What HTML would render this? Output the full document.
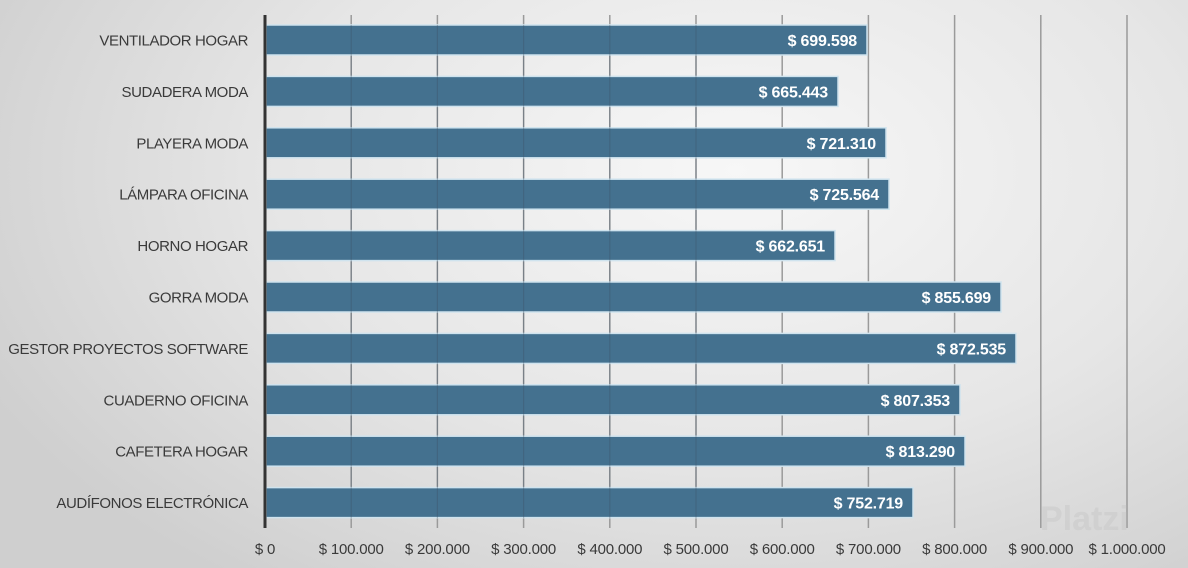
<!DOCTYPE html>
<html><head><meta charset="utf-8"><style>
html,body{margin:0;padding:0;}
body{width:1188px;height:568px;overflow:hidden;background:radial-gradient(ellipse 70% 90% at 62% 30%,#f7f7f7 0%,#e6e6e6 55%,#cfcfcf 100%);}
svg{display:block;font-family:"Liberation Sans",sans-serif;}
</style></head><body>
<svg width="1188" height="568" viewBox="0 0 1188 568">
<g stroke="#9a9a9a" stroke-width="1.5">
<line x1="351.2" y1="15" x2="351.2" y2="528"/>
<line x1="437.4" y1="15" x2="437.4" y2="528"/>
<line x1="523.6" y1="15" x2="523.6" y2="528"/>
<line x1="609.8" y1="15" x2="609.8" y2="528"/>
<line x1="696" y1="15" x2="696" y2="528"/>
<line x1="782.2" y1="15" x2="782.2" y2="528"/>
<line x1="868.4" y1="15" x2="868.4" y2="528"/>
<line x1="954.6" y1="15" x2="954.6" y2="528"/>
<line x1="1040.8" y1="15" x2="1040.8" y2="528"/>
<line x1="1127" y1="15" x2="1127" y2="528"/>
</g>
<g fill="#44718f" stroke="#cfe3ee" stroke-width="1.5">
<rect x="266" y="25" width="601" height="30"/>
<rect x="266" y="76.4" width="572" height="30"/>
<rect x="266" y="127.8" width="620" height="30"/>
<rect x="266" y="179.2" width="623" height="30"/>
<rect x="266" y="230.6" width="569" height="30"/>
<rect x="266" y="282" width="735" height="30"/>
<rect x="266" y="333.4" width="750" height="30"/>
<rect x="266" y="384.8" width="694" height="30"/>
<rect x="266" y="436.2" width="699" height="30"/>
<rect x="266" y="487.6" width="647" height="30"/>
</g>
<g stroke="rgba(60,80,100,0.35)" stroke-width="1.2">
<line x1="351.2" y1="25" x2="351.2" y2="518"/><line x1="437.4" y1="25" x2="437.4" y2="518"/>
<line x1="523.6" y1="25" x2="523.6" y2="518"/><line x1="609.8" y1="25" x2="609.8" y2="518"/>
<line x1="696" y1="25" x2="696" y2="518"/>
</g>
<line x1="265" y1="15" x2="265" y2="528" stroke="#333" stroke-width="3"/>
<g fill="#fff" font-weight="bold" font-size="16" text-anchor="end" letter-spacing="-0.2">
<text x="857" y="46">$ 699.598</text>
<text x="828" y="97.4">$ 665.443</text>
<text x="876" y="148.8">$ 721.310</text>
<text x="879" y="200.2">$ 725.564</text>
<text x="825" y="251.6">$ 662.651</text>
<text x="991" y="303">$ 855.699</text>
<text x="1006" y="354.4">$ 872.535</text>
<text x="950" y="405.8">$ 807.353</text>
<text x="955" y="457.2">$ 813.290</text>
<text x="903" y="508.6">$ 752.719</text>
</g>
<g fill="#3a3a3a" font-size="15" text-anchor="end" letter-spacing="-0.4">
<text x="248" y="45.5">VENTILADOR HOGAR</text>
<text x="248" y="96.9">SUDADERA MODA</text>
<text x="248" y="148.3">PLAYERA MODA</text>
<text x="248" y="199.7">LÁMPARA OFICINA</text>
<text x="248" y="251.1">HORNO HOGAR</text>
<text x="248" y="302.5">GORRA MODA</text>
<text x="248" y="353.9">GESTOR PROYECTOS SOFTWARE</text>
<text x="248" y="405.3">CUADERNO OFICINA</text>
<text x="248" y="456.7">CAFETERA HOGAR</text>
<text x="248" y="508.1">AUDÍFONOS ELECTRÓNICA</text>
</g>
<g fill="#3a3a3a" font-size="15" text-anchor="middle" letter-spacing="-0.2">
<text x="265" y="554">$ 0</text>
<text x="351.2" y="554">$ 100.000</text>
<text x="437.4" y="554">$ 200.000</text>
<text x="523.6" y="554">$ 300.000</text>
<text x="609.8" y="554">$ 400.000</text>
<text x="696" y="554">$ 500.000</text>
<text x="782.2" y="554">$ 600.000</text>
<text x="868.4" y="554">$ 700.000</text>
<text x="954.6" y="554">$ 800.000</text>
<text x="1040.8" y="554">$ 900.000</text>
<text x="1127" y="554">$ 1.000.000</text>
</g>
<text x="1040" y="530" fill="rgba(200,200,200,0.5)" font-size="34" font-weight="bold">Platzi</text>
</svg>
</body></html>
